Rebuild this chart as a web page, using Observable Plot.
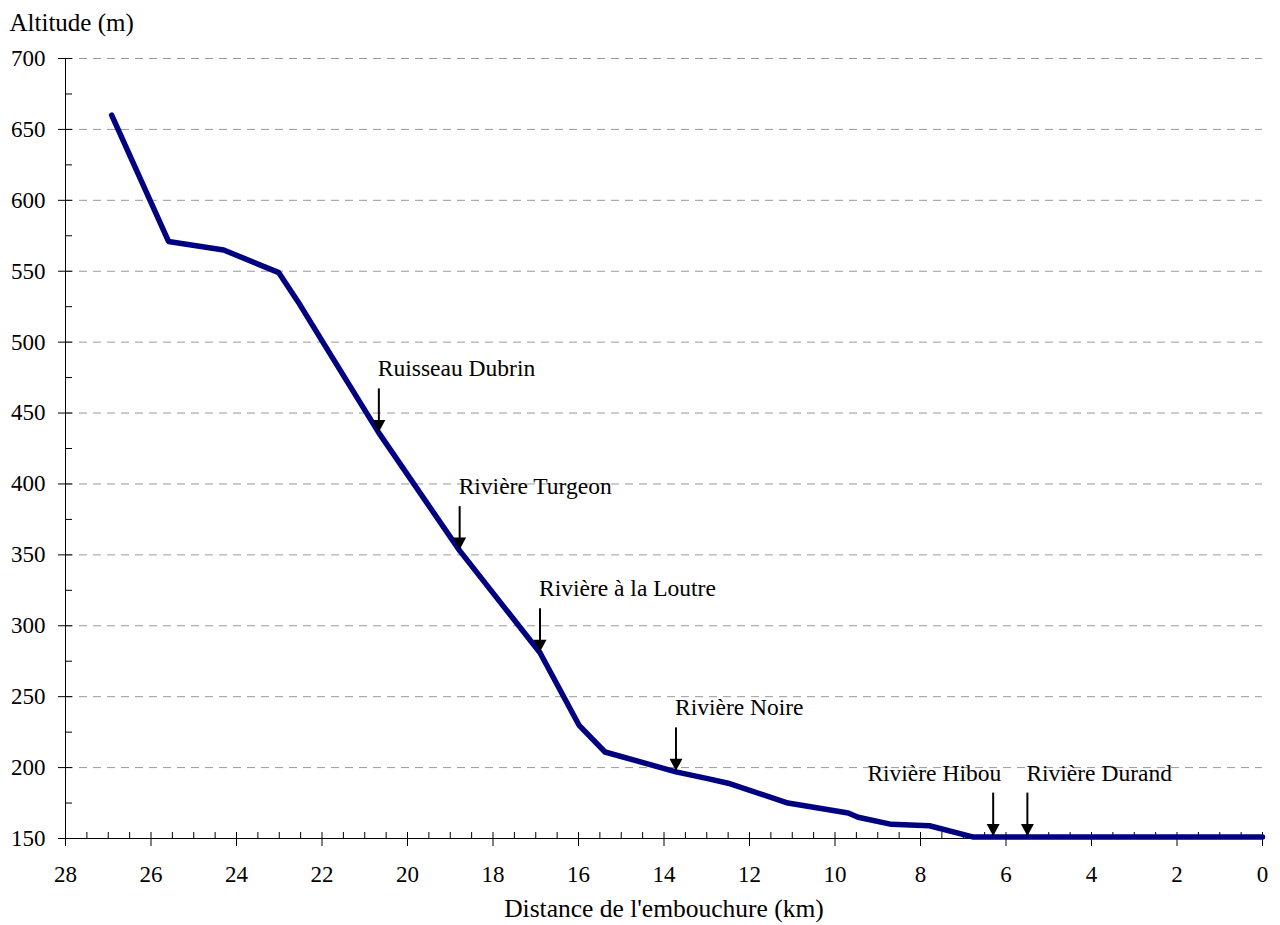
<!DOCTYPE html>
<html>
<head>
<meta charset="utf-8">
<script src="https://cdn.jsdelivr.net/npm/d3@7"></script>
<script src="https://cdn.jsdelivr.net/npm/@observablehq/plot@0.6"></script>
<style>
  html, body { margin: 0; padding: 0; background: #fff; }
  #chart svg { display: block; }
  #chart svg, #chart svg text { font-family: "Liberation Serif", "Times New Roman", serif !important; }
</style>
</head>
<body>
<div id="chart"></div>
<script>
// ---- data ----
const distanceKm = [26.92, 25.59, 24.30, 23.01, 22.55, 21.98, 20.67, 18.78, 16.90, 15.99, 15.38, 13.72, 12.95, 12.50, 11.10, 9.69, 9.46, 8.68, 7.79, 6.76, 0];
const altitudeM  = [660,   571,   565,   549,   528,   500,   436,   353,   281,   230,   211,   197,   192,   189,   175,   168,  165,  160,  159,  151,  151];

const tribNames = ["Ruisseau Dubrin", "Rivière Turgeon", "Rivière à la Loutre", "Rivière Noire", "Rivière Hibou", "Rivière Durand"];
const tribKm    = [20.67, 18.78, 16.90, 13.72, 6.30, 5.50];
const tribAlt   = [436,   353,   281,   197,   151,  151];

const xTicks = [28, 26, 24, 22, 20, 18, 16, 14, 12, 10, 8, 6, 4, 2, 0];
const xMinorTicks = d3.range(0, 28.01, 0.5);
const yTicks = [150, 200, 250, 300, 350, 400, 450, 500, 550, 600, 650, 700];
const yMinorTicks = d3.range(150, 701, 25);
const gridTicks = yTicks.slice(1);

const xTitle = "Distance de l'embouchure (km)";
const yTitle = "Altitude (m)";

// ---- derived tables ----
const profile = distanceKm.map((d, i) => ({km: d, alt: altitudeM[i]}));
const tribs = tribNames.map((n, i) => ({name: n, km: tribKm[i], alt: tribAlt[i]}));
const tribsStart = tribs.filter(d => d.name !== "Rivière Hibou");
const tribsEnd = tribs.filter(d => d.name === "Rivière Hibou");

const W = 1280, H = 925;
const mL = 65, mR = 18, mT = 58, mB = 87;
const frameW = W - mL - mR, frameH = H - mT - mB;
const FONT = "'Liberation Serif', 'Times New Roman', serif";
const arrowM = 31; // shaft length in metres (~44px)

const downTriangle = {
  draw(context) {
    const w = 13, h = 12;
    context.moveTo(0, 0);
    context.lineTo(-w / 2, -h);
    context.lineTo(w / 2, -h);
    context.closePath();
  }
};

const labelOpts = {x: "km", y: "alt", text: "name", dy: -64, lineAnchor: "middle", fontSize: 23.5, fill: "#000", fontFamily: FONT};

const chart = Plot.plot({
  width: W,
  height: H,
  marginLeft: mL,
  marginRight: mR,
  marginTop: mT,
  marginBottom: mB,
  style: {fontFamily: FONT, fontSize: "23px", color: "#000", background: "#fff"},
  x: {domain: [28, 0]},
  y: {domain: [150, 700]},
  marks: [
    Plot.gridY(gridTicks, {stroke: "#999", strokeOpacity: 1, strokeDasharray: "8,6", strokeWidth: 1}),
    // axes lines
    Plot.ruleX([28], {stroke: "#000", strokeWidth: 1}),
    Plot.ruleY([150], {stroke: "#000", strokeWidth: 1}),
    // inside ticks
    Plot.tickX(xMinorTicks, {x: d => d, insetTop: frameH - 6, stroke: "#000"}),
    Plot.tickY(yMinorTicks, {y: d => d, insetRight: frameW - 7, stroke: "#000"}),
    // axes with outside major ticks
    Plot.axisX(xTicks, {tickSize: 8, tickPadding: 19, label: null, fontSize: 23, fontFamily: FONT, stroke: "#000"}),
    Plot.axisY(yTicks, {tickSize: 7, tickPadding: 13, label: null, fontSize: 23, fontFamily: FONT, stroke: "#000"}),
    // profile line
    Plot.line(profile, {x: "km", y: "alt", stroke: "#000080", strokeWidth: 5.5, strokeLinejoin: "round"}),
    // tributary arrows
    Plot.ruleX(tribs, {x: "km", y1: d => d.alt + 1, y2: d => d.alt + arrowM, stroke: "#000", strokeWidth: 2}),
    Plot.dot(tribs, {x: "km", y: "alt", symbol: downTriangle, fill: "#000", stroke: "none", dy: -1}),
    Plot.text(tribsStart, {...labelOpts, textAnchor: "start", dx: -1}),
    Plot.text(tribsEnd, {...labelOpts, textAnchor: "end", dx: 8}),
    // titles
    Plot.text([yTitle], {frameAnchor: "top-left", dx: -56, dy: -36, textAnchor: "start", lineAnchor: "middle", fontSize: 25, fill: "#000", fontFamily: FONT}),
    Plot.text([xTitle], {frameAnchor: "bottom", dy: 70, lineAnchor: "middle", fontSize: 25.5, fill: "#000", fontFamily: FONT})
  ]
});

document.getElementById("chart").appendChild(chart);
</script>
</body>
</html>
